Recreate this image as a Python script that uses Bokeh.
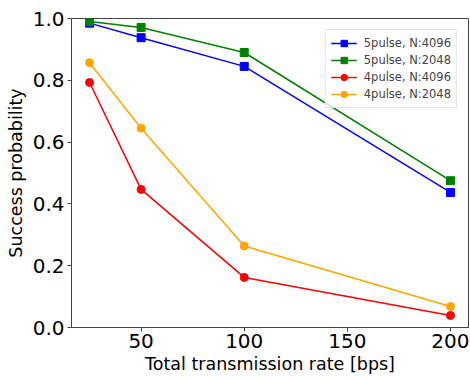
from bokeh.plotting import figure
from bokeh.embed import file_html
from bokeh.resources import INLINE
from bokeh.models import Range1d, FixedTicker, Legend, CustomJSTickFormatter

rates = [25, 50, 100, 200]
p5_4096 = [0.985, 0.938, 0.845, 0.437]
p5_2048 = [0.990, 0.971, 0.890, 0.475]
p4_4096 = [0.793, 0.447, 0.162, 0.039]
p4_2048 = [0.857, 0.645, 0.264, 0.068]
x_ticks = [50, 100, 150, 200]
y_ticks = [0.0, 0.2, 0.4, 0.6, 0.8, 1.0]

FONT = "DejaVu Sans"

p = figure(width=470, height=379, output_backend="svg", toolbar_location=None,
           x_range=Range1d(16.25, 208.75), y_range=Range1d(0, 1),
           min_border_left=71, min_border_right=2, min_border_top=18, min_border_bottom=52)
p.xgrid.visible = False
p.ygrid.visible = False
p.outline_line_color = "#444444"
p.outline_line_width = 1

series = [
    (p5_4096, "blue", "square", "5pulse, N:4096"),
    (p5_2048, "green", "square", "5pulse, N:2048"),
    (p4_4096, "red", "circle", "4pulse, N:4096"),
    (p4_2048, "orange", "circle", "4pulse, N:2048"),
]
items = []
for vals, col, mk, lab in series:
    r1 = p.line(rates, vals, line_color=col, line_width=1.5)
    r2 = p.scatter(rates, vals, marker=mk, size=8, color=col)
    items.append((lab, [r1, r2]))

leg = Legend(items=items, location="top_right")
leg.label_text_font = FONT
leg.label_text_font_size = "11.5px"
leg.label_height = 16
leg.glyph_height = 16
leg.glyph_width = 26
leg.label_standoff = 7
leg.spacing = 1
leg.padding = 5
leg.margin = 11
leg.border_line_color = "#cccccc"
leg.background_fill_alpha = 0.8
p.add_layout(leg, "center")

for ax in (p.xaxis[0], p.yaxis[0]):
    ax.major_label_text_font = FONT
    ax.major_label_text_font_size = "20px"
    ax.axis_label_text_font = FONT
    ax.axis_label_text_font_size = "17.5px"
    ax.axis_label_text_font_style = "normal"
    ax.minor_tick_line_color = None
    ax.major_tick_out = 4
    ax.major_tick_in = 0
    ax.axis_line_color = "#444444"
    ax.major_tick_line_color = "#444444"
    ax.major_label_text_color = "black"
    ax.axis_label_text_color = "black"

p.xaxis.ticker = FixedTicker(ticks=x_ticks)
p.yaxis.ticker = FixedTicker(ticks=y_ticks)
p.yaxis.formatter = CustomJSTickFormatter(code="return tick.toFixed(1);")
p.xaxis.axis_label = "Total transmission rate [bps]"
p.yaxis.axis_label = "Success probability"
p.xaxis.major_label_standoff = 2
p.yaxis.major_label_standoff = 3
p.xaxis.axis_label_standoff = 3
p.yaxis.axis_label_standoff = 4

open("out.html", "w").write(file_html(p, INLINE))
